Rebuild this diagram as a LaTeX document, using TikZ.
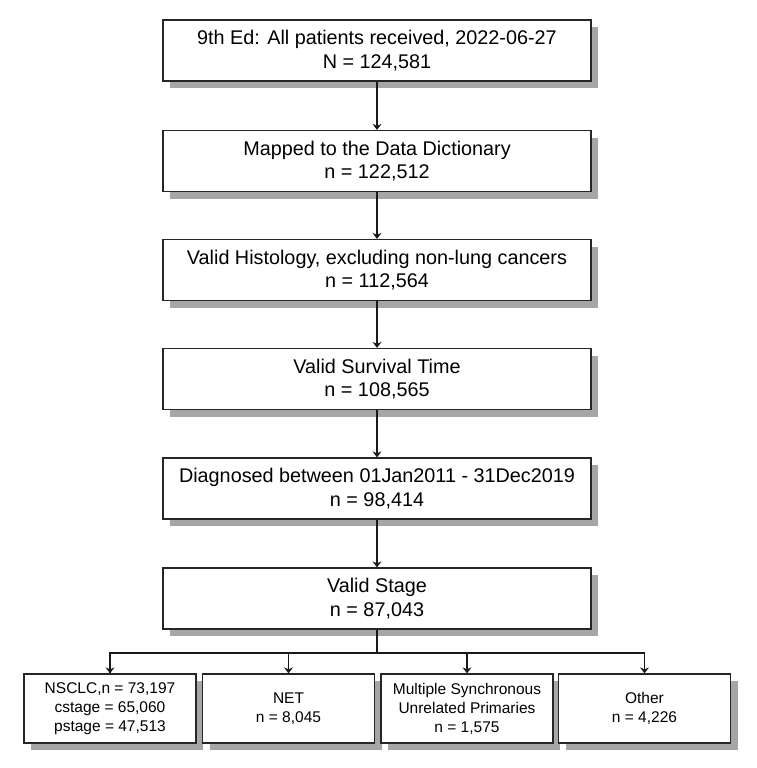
\documentclass[tikz,border=0pt]{standalone}
\usepackage{fontspec}
\setmainfont{Liberation Sans}
\usetikzlibrary{arrows.meta,shadows}
\begin{document}
\begin{tikzpicture}[x=1pt,y=-1pt,
  box/.style={draw=black!85, line width=1.3pt, fill=white, align=center, inner sep=0pt,
    drop shadow={shadow xshift=7pt, shadow yshift=-7pt, fill=black!35, opacity=1}},
  mainbox/.style={box, minimum width=428pt, minimum height=61pt,
    font=\fontsize{19.8}{23.5}\selectfont},
  subbox/.style={box, minimum width=172pt, minimum height=69pt,
    font=\fontsize{15.5}{19}\selectfont},
  arr/.style={draw=black!90, line width=1.3pt, -{Stealth[length=6pt,width=9pt,inset=2pt]}},
  conn/.style={draw=black!90, line width=1.3pt}]
\useasboundingbox (0,0) rectangle (756,768);
\node[mainbox] (b1) at (377,50.5) {9th Ed: All patients received, 2022-06-27\\N = 124,581};
\node[mainbox] (b2) at (377,161) {Mapped to the Data Dictionary\\n = 122,512};
\node[mainbox] (b3) at (377,270) {Valid Histology, excluding non-lung cancers\\n = 112,564};
\node[mainbox] (b4) at (377,379) {Valid Survival Time\\n = 108,565};
\node[mainbox] (b5) at (377,488.5) {Diagnosed between 01Jan2011 - 31Dec2019\\n = 98,414};
\node[mainbox] (b6) at (377,598.5) {Valid Stage\\n = 87,043};
\node[subbox] (c1) at (110,708.5) {NSCLC,n = 73,197\\cstage = 65,060\\pstage = 47,513};
\node[subbox] (c2) at (288.5,708.5) {NET\\n = 8,045};
\node[subbox] (c3) at (467,708.5) {Multiple Synchronous\\Unrelated Primaries\\n = 1,575};
\node[subbox] (c4) at (644.5,708.5) {Other\\n = 4,226};
\draw[arr] (b1) -- (b2);
\draw[arr] (b2) -- (b3);
\draw[arr] (b3) -- (b4);
\draw[arr] (b4) -- (b5);
\draw[arr] (b5) -- (b6);
\coordinate (j) at (377,653);
\draw[conn] (b6.south) -- (j);
\draw[conn] (j) -| (c1.north);
\draw[conn] (j) -| (c4.north);
\draw[arr] (c1.north |- j) -- (c1.north);
\draw[arr] (c2.north |- j) -- (c2.north);
\draw[arr] (c3.north |- j) -- (c3.north);
\draw[arr] (c4.north |- j) -- (c4.north);
\end{tikzpicture}
\end{document}
